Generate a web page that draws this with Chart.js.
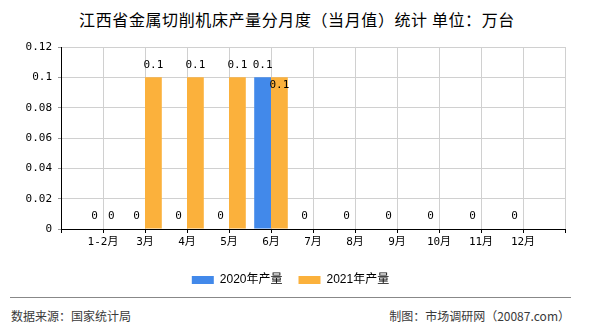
<!DOCTYPE html>
<html>
<head>
<meta charset="utf-8">
<script src="https://cdn.jsdelivr.net/npm/chart.js@4/dist/chart.umd.min.js"></script>
<style>
  html, body { margin: 0; padding: 0; background: #fff; }
  #wrap { position: relative; width: 590px; height: 330px; overflow: hidden; font-family: "Noto Sans CJK SC", sans-serif; }
  #title { position: absolute; left: 0; top: 8px; width: 594px; text-align: center; font-size: 16px; letter-spacing: 0.6px; color: #000; line-height: 22px; white-space: nowrap; }
  #box { position: absolute; left: 13px; top: 0; width: 557px; height: 296px; }
  #rule { position: absolute; left: 10px; top: 297px; width: 561px; height: 1px; background: #888; }
  .foot { position: absolute; top: 308px; font-size: 12px; color: #3a3a3a; line-height: 16px; white-space: nowrap; }
</style>
</head>
<body>
<div id="wrap">
  <div id="title">江西省金属切削机床产量分月度（当月值）统计 单位：万台</div>
  <div id="box"><canvas id="chart" width="555" height="296"></canvas></div>
  <div id="rule"></div>
  <div class="foot" style="left:11px">数据来源：国家统计局</div>
  <div class="foot" style="right:20px">制图：市场调研网（20087.com）</div>
</div>
<script>
const categories = ['1-2月', '3月', '4月', '5月', '6月', '7月', '8月', '9月', '10月', '11月', '12月'];
const output2020 = [0, 0, 0, 0, 0.1, 0, 0, 0, 0, 0, 0];
const output2021 = [0, 0.1, 0.1, 0.1, 0.1, null, null, null, null, null, null];
const yTicks = [0, 0.02, 0.04, 0.06, 0.08, 0.1, 0.12];

// the axis has an empty slot on each side, labels sit on the grid lines
const pad = arr => [null, ...arr, null];
const xLabels = ['', ...categories, ''];

const monoFont = '"DejaVu Sans Mono", "Noto Sans CJK SC"';
const gridColor = '#d0d0d0';

// value labels above each bar, nudged down when two collide
const valueLabels = {
  id: 'valueLabels',
  afterDatasetsDraw(chart) {
    const ctx = chart.ctx;
    ctx.save();
    ctx.font = '11px ' + monoFont;
    ctx.fillStyle = '#000';
    ctx.textAlign = 'center';
    ctx.textBaseline = 'middle';
    const placed = [];
    chart.data.datasets.forEach((ds, di) => {
      chart.getDatasetMeta(di).data.forEach((bar, i) => {
        const v = ds.data[i];
        if (v === null || v === undefined) return;
        const txt = String(v);
        const w = ctx.measureText(txt).width;
        let y = bar.y - 12.5;
        const hit = placed.some(p => Math.abs(p.x - bar.x) < (p.w + w) / 2 + 2 && Math.abs(p.y - y) < 10);
        if (hit) y += 20;
        placed.push({ x: bar.x, y, w });
        ctx.fillText(txt, bar.x, y);
      });
    });
    ctx.restore();
  }
};

new Chart(document.getElementById('chart'), {
  type: 'bar',
  data: {
    labels: xLabels,
    datasets: [
      { label: '2020年产量', data: pad(output2020), backgroundColor: '#4289ea', borderWidth: 0 },
      { label: '2021年产量', data: pad(output2021), backgroundColor: '#fbb13c', borderWidth: 0 }
    ]
  },
  options: {
    responsive: false,
    animation: false,
    layout: { padding: { top: 47, left: 0, right: 0, bottom: 0 } },
    datasets: { bar: { categoryPercentage: 0.8, barPercentage: 1.0 } },
    plugins: {
      title: { display: false },
      tooltip: { enabled: false },
      legend: {
        position: 'bottom',
        labels: {
          boxWidth: 22,
          boxHeight: 8,
          padding: 16,
          color: '#000',
          font: { family: '"Liberation Sans", "Noto Sans CJK SC"', size: 12 }
        }
      }
    },
    scales: {
      x: {
        offset: false,
        grid: { offset: false, color: gridColor, tickColor: '#000', tickLength: 4 },
        border: { color: '#000' },
        ticks: {
          color: '#000',
          font: { family: monoFont, size: 11 },
          padding: 3,
          maxRotation: 0,
          autoSkip: false
        },
        afterFit: s => { s.height = 29; }
      },
      y: {
        min: yTicks[0],
        max: yTicks[yTicks.length - 1],
        grid: { color: gridColor, tickColor: '#999', tickLength: 3 },
        border: { color: '#000' },
        ticks: {
          color: '#000',
          font: { family: monoFont, size: 11 },
          padding: 6,
          callback: v => String(v)
        },
        afterBuildTicks: s => { s.ticks = yTicks.map(v => ({ value: v })); },
        afterFit: s => { s.width = 48; }
      }
    }
  },
  plugins: [valueLabels]
});
</script>
</body>
</html>
